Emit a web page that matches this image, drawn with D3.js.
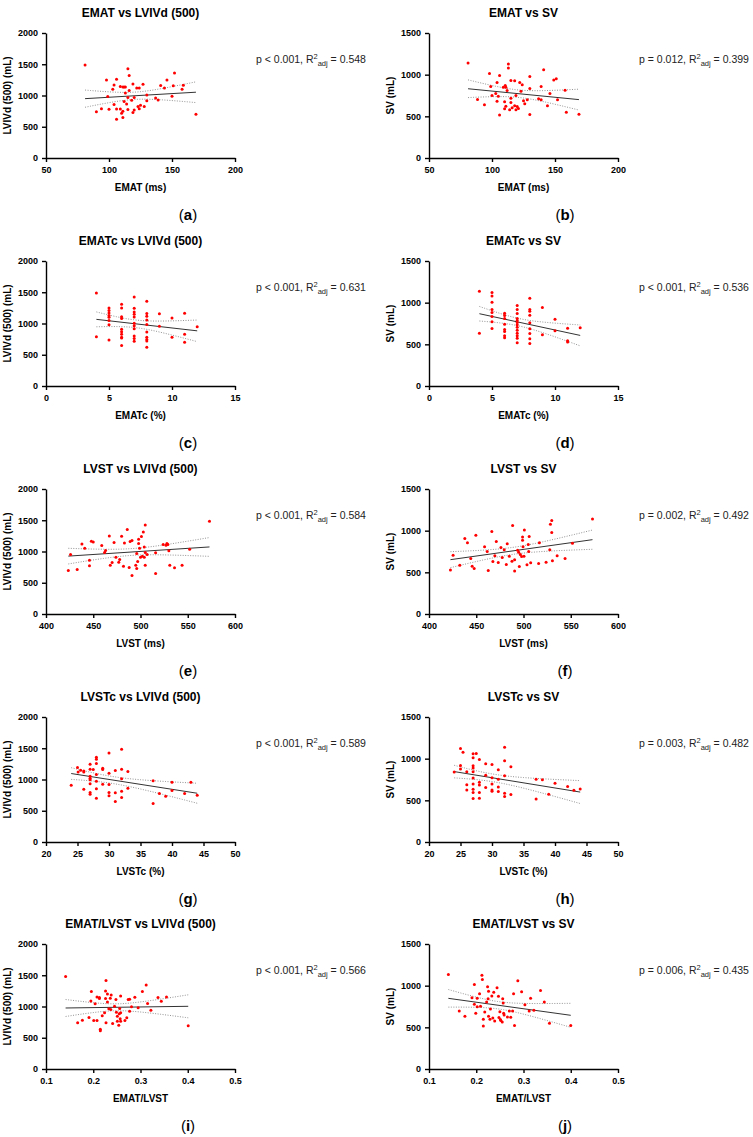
<!DOCTYPE html>
<html>
<head>
<meta charset="utf-8">
<script src="https://cdn.jsdelivr.net/npm/d3@7"></script>
<style>
  body { margin: 0; background: #fff; }
  text { font-family: "Liberation Sans", Arial, sans-serif; }
</style>
</head>
<body>
<div class="chart"></div>
<script>
// scatter data: [x, y]
const ematLvivd = [[81,1490],[90,740],[94,790],[98,1250],[99,985],[100,780],[103,1100],[104,1170],[104,855],[106,1260],[106,785],[106,620],[109,1145],[109,785],[110,715],[111,1135],[111,650],[111,750],[112,905],[112,1135],[113,1135],[113,1040],[114,865],[115,1430],[115,970],[115,775],[116,1320],[116,1080],[118,925],[119,1185],[119,730],[120,970],[120,770],[122,1120],[123,825],[124,1120],[124,790],[125,845],[127,1180],[128,825],[130,1010],[130,915],[137,960],[139,930],[141,1160],[144,1120],[146,1250],[150,990],[151,1155],[152,1360],[158,1100],[159,1165],[169,700]];
const ematSv = [[81,1140],[88.5,702],[94,638],[98,1015],[99,858],[100,750],[103,774],[104,906],[104,682],[105,742],[106,991],[106,517],[109,850],[110,674],[110,590],[110.5,870],[111,622],[111,850],[112,810],[113,1127],[113,1079],[114,578],[115,930],[115,718],[115,666],[116,602],[118,626],[118,927],[119,750],[119,578],[120,618],[121,594],[122,906],[123,802],[124,878],[125,686],[126,650],[128,698],[130,979],[130,834],[130,521],[137,710],[139,698],[139,858],[141,1060],[144,626],[146,774],[149,935],[151,950],[152,698],[158,814],[159,550],[169,525]];
const ematcLvivd = [[4,1490],[4,790],[5,1250],[5,1210],[5,1170],[5,1130],[5,1100],[5,1050],[5,980],[5,735],[6,1310],[6,1250],[6,1110],[6,1080],[6,910],[6,870],[6,830],[6,780],[6,770],[6,650],[7,1425],[7,1245],[7,1185],[7,1150],[7,1105],[7,1005],[7,965],[7,915],[7,800],[7,760],[7,715],[8,1355],[8,1160],[8,1115],[8,1055],[8,985],[8,865],[8,780],[8,745],[8,720],[8,620],[9,1155],[9,955],[10,1090],[10,780],[11,1165],[11,830],[11,700],[12,950]];
const ematcSv = [[4,1137],[4,634],[5,1121],[5,1081],[5,1005],[5,917],[5,882],[5,834],[5,770],[5,690],[6,874],[6,846],[6,810],[6,742],[6,678],[6,654],[6,602],[6,578],[7,965],[7,917],[7,870],[7,810],[7,786],[7,762],[7,734],[7,706],[7,670],[7,634],[7,602],[7,574],[7,519],[8,1053],[8,917],[8,898],[8,850],[8,758],[8,686],[8,630],[8,566],[8,511],[9,941],[9,614],[10,802],[10,662],[11,694],[11,542],[11,527],[12,698]];
const lvstLvivd = [[423.6,697],[426,952],[433,713],[438,1122],[441,1053],[446,771],[446,862],[448,1165],[450,1154],[459,1096],[462,984],[463,1016],[467,1250],[468,782],[470,824],[472,1144],[474,910],[477,830],[478,872],[480,1245],[482,766],[483,1138],[486,1351],[488,745],[489,1160],[491,1176],[491,617],[495,782],[496,729],[496,968],[497,840],[498,1197],[498,1128],[499,1053],[500,910],[501,1239],[502,926],[503,1314],[504,1074],[504,910],[505,984],[505,782],[505,1426],[507,952],[516,979],[516,649],[524,1112],[527,1101],[528,1128],[529,1112],[530,1011],[531,782],[536,739],[544,782],[552,1037],[573,1484]];
const lvstSv = [[422.7,527],[425.5,706],[432.6,586],[437.9,905],[440.7,854],[444.2,666],[445.7,574],[447.8,546],[449.6,945],[458.8,806],[461.6,750],[462.7,523],[466.5,989],[467.6,630],[469.7,698],[471.2,870],[473.3,618],[476.1,798],[477.5,678],[479.6,770],[481.8,594],[482.8,842],[485,694],[487.8,634],[488.5,1061],[490.6,650],[490.6,515],[493.8,766],[494.9,742],[495.6,570],[496.6,714],[498,690],[499,925],[499,885],[499.5,806],[500.5,694],[500.9,1009],[503.7,590],[505,834],[505.5,750],[506,929],[507.6,614],[516,606],[516.8,854],[523.9,622],[527.8,770],[528.5,1077],[529.9,1121],[529.9,977],[530.6,638],[535.6,698],[544,666],[551.8,850],[573,1141]];
const lvstcLvivd = [[24,910],[25,1191],[25.1,1122],[25.5,1149],[26,1138],[26,1122],[26,846],[27,1245],[27,1165],[27,1053],[27,1021],[27,995],[27,931],[27,793],[27,766],[27.5,1160],[28,1356],[28,1324],[28,1255],[28,1080],[28,973],[28,851],[28,702],[29,1181],[29,1160],[29,926],[30,1426],[30,1101],[30,920],[30,793],[30,739],[31,1144],[31,787],[31,649],[32,1484],[32,1165],[32,1011],[32,814],[32,713],[33,1128],[33,862],[37,979],[37,617],[38,777],[39,734],[40,957],[40,824],[42,777],[43,957],[44,750]];
const lvstcSv = [[24,840],[25,1122],[25,919],[25,875],[25.4,1078],[26,844],[26,688],[26,625],[27,1058],[27,1011],[27,915],[27,887],[27,844],[27,768],[27,696],[27,633],[27,593],[27,521],[27.5,1062],[28,991],[28,716],[28,684],[28,593],[28,525],[29,939],[29,800],[29,653],[30,931],[30,772],[30,696],[30,625],[30,609],[31,867],[31,752],[31,661],[31,605],[32,1138],[32,975],[32,796],[32,585],[32,545],[33,903],[33,569],[37,752],[37,517],[38,748],[39,573],[40,704],[42,665],[43,621],[44,637]];
const ratioLvivd = [[0.1415,1479],[0.167,739],[0.177,782],[0.191,824],[0.195,1090],[0.196,1239],[0.201,777],[0.204,1043],[0.208,777],[0.208,1154],[0.213,1128],[0.213,1144],[0.215,638],[0.215,612],[0.219,851],[0.224,899],[0.226,1128],[0.226,1250],[0.227,1415],[0.227,739],[0.23,1202],[0.23,1074],[0.233,963],[0.236,1133],[0.237,952],[0.238,1186],[0.241,729],[0.245,1005],[0.248,1112],[0.249,910],[0.251,766],[0.251,846],[0.254,702],[0.255,883],[0.256,968],[0.257,803],[0.258,899],[0.258,766],[0.258,1170],[0.267,777],[0.271,819],[0.274,1112],[0.277,926],[0.277,1117],[0.281,995],[0.288,1149],[0.295,979],[0.304,1239],[0.312,1346],[0.315,1048],[0.322,941],[0.337,1144],[0.344,1085],[0.355,1154],[0.401,691]];
const ratioSv = [[0.141,1134],[0.164,696],[0.176,633],[0.191,856],[0.196,1015],[0.196,776],[0.199,669],[0.202,848],[0.202,748],[0.207,903],[0.209,752],[0.212,1126],[0.213,1074],[0.215,597],[0.215,517],[0.218,684],[0.222,804],[0.224,987],[0.225,844],[0.226,932],[0.226,633],[0.229,597],[0.23,720],[0.233,875],[0.235,613],[0.237,920],[0.239,577],[0.244,975],[0.247,872],[0.248,617],[0.25,688],[0.251,593],[0.252,581],[0.255,565],[0.256,844],[0.257,792],[0.258,669],[0.259,649],[0.266,625],[0.27,696],[0.273,621],[0.277,696],[0.279,903],[0.281,521],[0.288,1058],[0.296,927],[0.303,772],[0.312,696],[0.315,848],[0.322,704],[0.336,943],[0.344,804],[0.355,549],[0.4,521]];

// per row (predictor)
const predictors = ['EMAT', 'EMATc', 'LVST', 'LVSTc', 'EMAT/LVST'];
const xLabels = ['EMAT (ms)', 'EMATc (%)', 'LVST (ms)', 'LVSTc (%)', 'EMAT/LVST'];
const xDomains = [[50, 200], [0, 15], [400, 600], [20, 50], [0.1, 0.5]];
const xTicks = [[50, 100, 150, 200], [0, 5, 10, 15], [400, 450, 500, 550, 600], [20, 25, 30, 35, 40, 45, 50], [0.1, 0.2, 0.3, 0.4, 0.5]];

// per column (outcome)
const outcomes = ['LVIVd (500)', 'SV'];
const yLabels = ['LVIVd (500) (mL)', 'SV (mL)'];
const yDomains = [[0, 2000], [0, 1500]];
const yTicks = [[0, 500, 1000, 1500, 2000], [0, 500, 1000, 1500]];

// per panel a..j
const panelLetters = ['a', 'b', 'c', 'd', 'e', 'f', 'g', 'h', 'i', 'j'];
const pValues = ['p < 0.001', 'p = 0.012', 'p < 0.001', 'p < 0.001', 'p < 0.001', 'p = 0.002', 'p < 0.001', 'p = 0.003', 'p < 0.001', 'p = 0.006'];
const r2Values = ['0.548', '0.399', '0.631', '0.536', '0.584', '0.492', '0.589', '0.482', '0.566', '0.435'];
const panelData = [ematLvivd, ematSv, ematcLvivd, ematcSv, lvstLvivd, lvstSv, lvstcLvivd, lvstcSv, ratioLvivd, ratioSv];

const config = {
  width: 753,
  height: 1137,
  colX: [46, 429],
  plotW: 189,
  plotH: 125,
  rowTop: [33, 261, 489, 717, 944],
  colCenter: [188, 565]
};

const svg = d3.select('.chart').append('svg')
  .attr('width', config.width)
  .attr('height', config.height);

svg.append('rect').attr('width', config.width).attr('height', config.height).attr('fill', '#fff');

function fit(pts) {
  const n = pts.length;
  const mx = d3.mean(pts, d => d[0]);
  const my = d3.mean(pts, d => d[1]);
  const sxx = d3.sum(pts, d => (d[0] - mx) ** 2);
  const sxy = d3.sum(pts, d => (d[0] - mx) * (d[1] - my));
  const b = sxy / sxx;
  const a = my - b * mx;
  const sse = d3.sum(pts, d => (d[1] - a - b * d[0]) ** 2);
  const s = Math.sqrt(sse / (n - 2));
  const t = 2.01; // ~95% two-sided, df around 50
  return { a, b, s, n, mx, sxx, t };
}

panelData.forEach((pts, i) => {
  const row = Math.floor(i / 2);
  const col = i % 2;
  const x0 = config.colX[col];
  const top = config.rowTop[row];
  const g = svg.append('g');

  const x = d3.scaleLinear().domain(xDomains[row]).range([x0, x0 + config.plotW]);
  const y = d3.scaleLinear().domain(yDomains[col]).range([top + config.plotH, top]);

  // title
  g.append('text')
    .attr('x', x0 + config.plotW / 2)
    .attr('y', top - 16)
    .attr('text-anchor', 'middle')
    .attr('font-size', 12)
    .attr('font-weight', 'bold')
    .text(`${predictors[row]} vs ${outcomes[col]}`);

  // axes
  const yAxis = g.append('g')
    .attr('transform', `translate(${x0},0)`)
    .call(d3.axisLeft(y).tickValues(yTicks[col]).tickSize(4).tickSizeOuter(0).tickFormat(d3.format('d')));
  const xAxis = g.append('g')
    .attr('transform', `translate(0,${top + config.plotH})`)
    .call(d3.axisBottom(x).tickValues(xTicks[row]).tickSize(4).tickSizeOuter(0).tickFormat(d => String(d)));
  [xAxis, yAxis].forEach(ax => {
    ax.selectAll('path, line').attr('stroke', '#000').attr('stroke-width', 1.4);
    ax.selectAll('text')
      .attr('font-family', '"Liberation Sans", Arial, sans-serif')
      .attr('font-size', 9)
      .attr('font-weight', 'bold')
      .attr('fill', '#000');
  });
  xAxis.selectAll('text').attr('dy', '0.9em');
  yAxis.selectAll('text').attr('dx', '-0.1em');

  // axis titles
  g.append('text')
    .attr('x', x0 + config.plotW / 2)
    .attr('y', top + config.plotH + 33)
    .attr('text-anchor', 'middle')
    .attr('font-size', 10)
    .attr('font-weight', 'bold')
    .text(xLabels[row]);
  g.append('text')
    .attr('transform', `translate(${x0 - 35},${top + config.plotH / 2}) rotate(-90)`)
    .attr('text-anchor', 'middle')
    .attr('font-size', 10)
    .attr('font-weight', 'bold')
    .text(yLabels[col]);

  // regression line and 95% confidence band
  const f = fit(pts);
  const xr = d3.extent(pts, d => d[0]);
  const xs = d3.range(0, 41).map(k => xr[0] + (xr[1] - xr[0]) * k / 40);
  const band = sign => xs.map(xv => {
    const se = f.s * Math.sqrt(1 / f.n + (xv - f.mx) ** 2 / f.sxx);
    return [xv, f.a + f.b * xv + sign * f.t * se];
  });
  const line = d3.line().x(d => x(d[0])).y(d => y(d[1]));
  [-1, 1].forEach(sign => {
    g.append('path')
      .attr('d', line(band(sign)))
      .attr('fill', 'none')
      .attr('stroke', '#777')
      .attr('stroke-width', 0.8)
      .attr('stroke-dasharray', '1,1.5');
  });
  g.append('path')
    .attr('d', line(xr.map(xv => [xv, f.a + f.b * xv])))
    .attr('fill', 'none')
    .attr('stroke', '#333')
    .attr('stroke-width', 1);

  // points
  g.append('g')
    .selectAll('circle')
    .data(pts)
    .enter()
    .append('circle')
    .attr('cx', d => x(d[0]))
    .attr('cy', d => y(d[1]))
    .attr('r', 1.5)
    .attr('fill', '#ff0000');

  // stats annotation
  const ann = g.append('text')
    .attr('x', x0 + 210)
    .attr('y', top + 30)
    .attr('font-size', 10.5)
    .attr('fill', '#222');
  ann.append('tspan').text(`${pValues[i]}, R`);
  ann.append('tspan').attr('dy', -4).attr('font-size', 7.5).text('2');
  ann.append('tspan').attr('dy', 6.5).attr('font-size', 7.5).text('adj');
  ann.append('tspan').attr('dy', -2.5).text(` = ${r2Values[i]}`);

  // panel caption
  const cap = g.append('text')
    .attr('x', config.colCenter[col])
    .attr('y', top + config.plotH + 62)
    .attr('text-anchor', 'middle')
    .attr('font-family', '"Liberation Serif", "Times New Roman", serif')
    .attr('font-size', 15);
  cap.append('tspan').text('(');
  cap.append('tspan').attr('font-weight', 'bold').text(panelLetters[i]);
  cap.append('tspan').text(')');
});
</script>
</body>
</html>
